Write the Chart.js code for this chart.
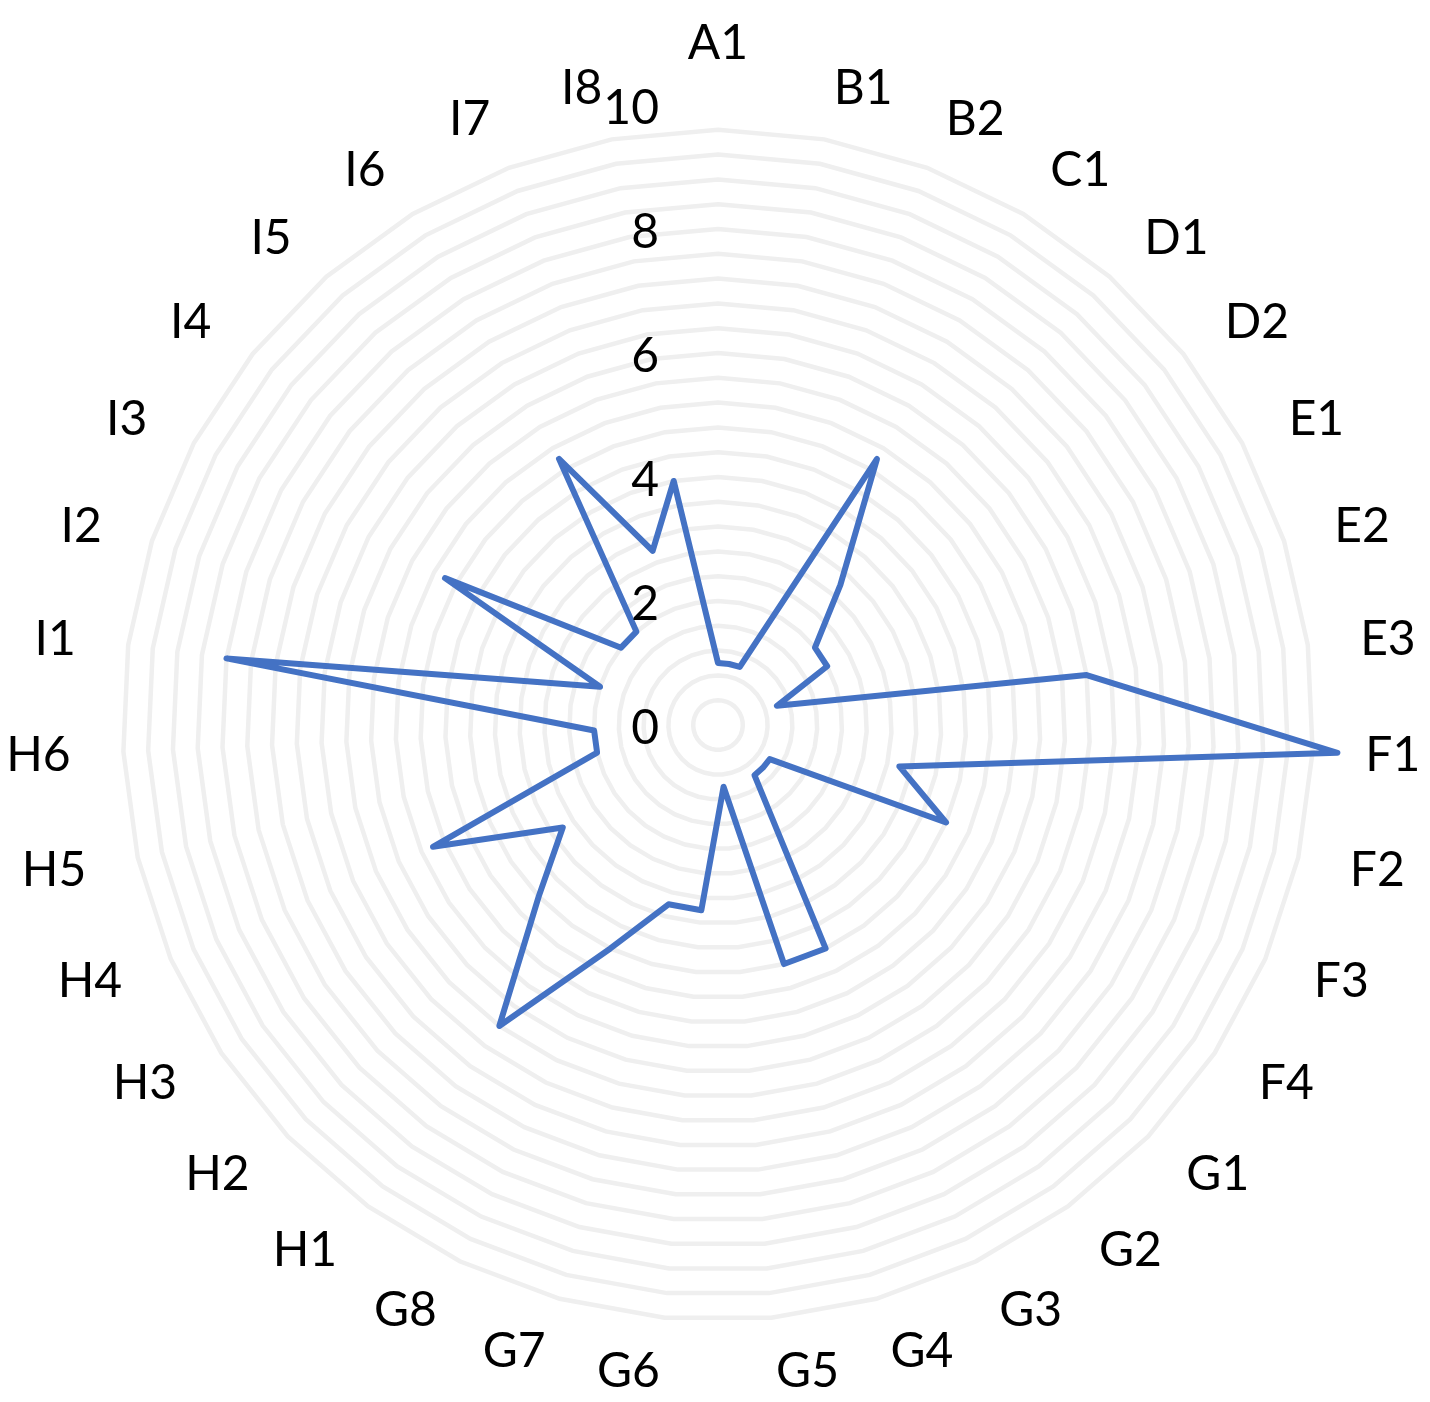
<!DOCTYPE html>
<html>
<head>
<meta charset="utf-8">
<title>Radar</title>
<script src="https://cdn.jsdelivr.net/npm/chart.js@4.4.1/dist/chart.umd.min.js"></script>
<style>
  html, body { margin: 0; padding: 0; background: #fff; }
  canvas { display: block; }
</style>
</head>
<body>
<canvas id="chart" width="1430" height="1402"></canvas>
<script>
const categories = ['A1', 'B1', 'B2', 'C1', 'D1', 'D2', 'E1', 'E2', 'E3', 'F1', 'F2', 'F3', 'F4',
    'G1', 'G2', 'G3', 'G4', 'G5', 'G6', 'G7', 'G8', 'H1', 'H2', 'H3', 'H4', 'H5', 'H6',
    'I1', 'I2', 'I3', 'I4', 'I5', 'I6', 'I7', 'I8'];
const values = [1, 1, 1, 5, 3, 2, 2, 1, 6, 10, 3, 4, 1, 1, 1, 4, 4, 1, 3, 3, 4, 6, 4, 3, 5, 2, 2,
    8, 2, 5, 2, 2, 5, 3, 4];
const tickValues = [0, 2, 4, 6, 8, 10];
const tickLabels = ['0', '2', '4', '6', '8', '10'];

// rings every 0.4 (the outer one sits at 9.6, not at 10)
const gridValues = [];
for (let k = 0; k <= 24; k++) gridValues.push(Math.round(k * 4) / 10);

const FONT = '48px Lato';

// labels drawn by hand so they sit where Excel puts them
const labelPlugin = {
    id: 'excelLabels',
    afterDraw(chart) {
        const r = chart.scales.r;
        const ctx = chart.ctx;
        ctx.save();
        ctx.font = FONT;
        ctx.fillStyle = '#000';
        ctx.textBaseline = 'alphabetic';

        const outer = r.getDistanceFromCenterForValue(r.max) + 28;
        categories.forEach((text, i) => {
            const p = r.getPointPosition(i, outer);
            const a = p.angle + Math.PI / 2;
            const s = Math.sin(a);
            if (Math.abs(s) < 0.05) {
                ctx.textAlign = 'center';
                ctx.fillText(text, p.x, Math.cos(a) > 0 ? p.y - 18 : p.y + 52);
            } else {
                ctx.textAlign = s > 0 ? 'left' : 'right';
                ctx.fillText(text, p.x, p.y + 17);
            }
        });

        // value axis labels, left of the vertical axis
        ctx.textAlign = 'right';
        tickValues.forEach((v, i) => {
            const y = r.yCenter - r.getDistanceFromCenterForValue(v);
            ctx.fillText(tickLabels[i], r.xCenter - 59, y + 19);
        });
        ctx.restore();
    }
};

const ctx = document.getElementById('chart').getContext('2d');
new Chart(ctx, {
    type: 'radar',
    data: {
        labels: categories,
        datasets: [{
            data: values,
            borderColor: '#4472C4',
            backgroundColor: 'transparent',
            borderWidth: 6,
            borderJoinStyle: 'round',
            fill: false,
            tension: 0,
            pointRadius: 0,
            pointHitRadius: 0
        }]
    },
    options: {
        responsive: false,
        animation: false,
        devicePixelRatio: 1,
        layout: {
            padding: { left: 98, right: 92, top: 105, bottom: 57 }
        },
        plugins: {
            legend: { display: false },
            tooltip: { enabled: false }
        },
        scales: {
            r: {
                min: 0,
                max: 10,
                afterBuildTicks: (scale) => {
                    scale.ticks = gridValues.map(v => ({ value: v }));
                },
                ticks: { display: false, stepSize: 0.4 },
                grid: {
                    circular: false,
                    color: '#EFEFEF',
                    lineWidth: 4.5
                },
                angleLines: { display: false },
                pointLabels: { display: false }
            }
        }
    },
    plugins: [labelPlugin]
});
</script>
</body>
</html>
